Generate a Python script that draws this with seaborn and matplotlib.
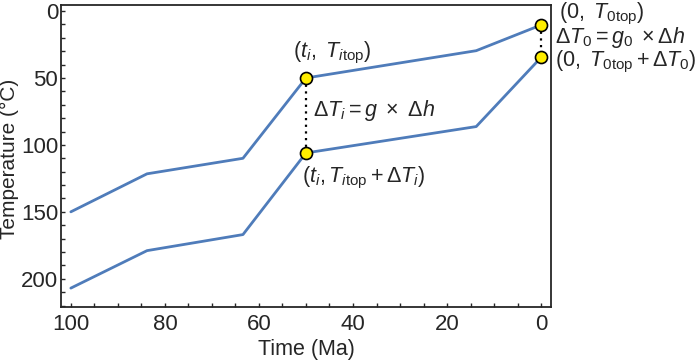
import numpy as np
import matplotlib
matplotlib.use("Agg")
import matplotlib.pyplot as plt
from matplotlib.ticker import MultipleLocator
import seaborn as sns
import pandas as pd

# Data
time_ma = [100, 83.8, 63.4, 50, 13.8, 0]
temp_top = [150, 121.6, 110, 50, 29.6, 10.4]
temp_bottom = [207, 179, 167, 106, 86.3, 34.6]

# highlighted points (t, T_top, T_bottom)
pts_t = [50, 0]
pts_top = [50, 10.4]
pts_bottom = [106, 34.6]

sns.set_style("ticks")
plt.rcParams['font.family'] = ['Liberation Sans', 'DejaVu Sans']
plt.rcParams['mathtext.fontset'] = 'custom'
plt.rcParams['mathtext.rm'] = 'Liberation Sans'
plt.rcParams['mathtext.it'] = 'Liberation Sans:italic'
plt.rcParams['mathtext.bf'] = 'Liberation Sans:bold'

df = pd.DataFrame({
    "time": time_ma * 2,
    "temp": temp_top + temp_bottom,
    "curve": ["top"] * len(time_ma) + ["bottom"] * len(time_ma),
})

fig = plt.figure(figsize=(7, 3.61), dpi=100)
ax = fig.add_axes([0.0871, 0.150, 0.700, 0.836])

line_col = "#4f7cba"
sns.lineplot(data=df, x="time", y="temp", units="curve", estimator=None,
             color=line_col, lw=2, sort=False, ax=ax, legend=False)

# dotted connectors
for t, a, b in zip(pts_t, pts_top, pts_bottom):
    ax.plot([t, t], [a, b], ls=(0, (1, 2)), color="black", lw=1.6, zorder=3)

ax.scatter(pts_t * 2, pts_top + pts_bottom, s=75, color="#ffee00",
           edgecolor="black", linewidth=1.2, zorder=5, clip_on=False)

ax.set_xlim(102.1, -2.1)
ax.set_ylim(221, -4.5)
ax.xaxis.set_major_locator(MultipleLocator(20))
ax.xaxis.set_minor_locator(MultipleLocator(5))
ax.yaxis.set_major_locator(MultipleLocator(50))
ax.yaxis.set_minor_locator(MultipleLocator(10))
ax.tick_params(which="both", direction="in", length=3, width=1, labelsize=16)
ax.tick_params(axis="x", pad=5)
ax.tick_params(axis="y", pad=2)
for s in ax.spines.values():
    s.set_linewidth(1.3)

ax.set_xlabel("Time (Ma)", fontsize=15.5)
ax.set_ylabel("Temperature (\u00b0C)", fontsize=15)
ax.xaxis.set_label_coords(0.5, -0.108, transform=ax.transAxes)
ax.xaxis.label.set_va("top")
ax.yaxis.set_label_coords(-0.086, 0.49)

fs = 15.5
ax.text(52.8, 41, r"$(t_i,\ T_{i\mathrm{top}})$", fontsize=fs, ha="left", va="bottom")
ax.text(48.5, 74, r"$\Delta T_i = g\ \times\ \Delta h$", fontsize=fs, ha="left", va="center")
ax.text(50.9, 115, r"$(t_i, T_{i\mathrm{top}} + \Delta T_i)$", fontsize=fs, ha="left", va="top")
ax.text(-3.9, 2.5, r"$(0,\ T_{0\mathrm{top}})$", fontsize=fs, ha="left", va="center", clip_on=False)
ax.text(-2.9, 20, r"$\Delta T_0 = g_0\ \times \Delta h$", fontsize=fs, ha="left", va="center", clip_on=False)
ax.text(-2.9, 38, r"$(0,\ T_{0\mathrm{top}} + \Delta T_0)$", fontsize=fs, ha="left", va="center", clip_on=False)

fig.savefig("out.png", dpi=100)
